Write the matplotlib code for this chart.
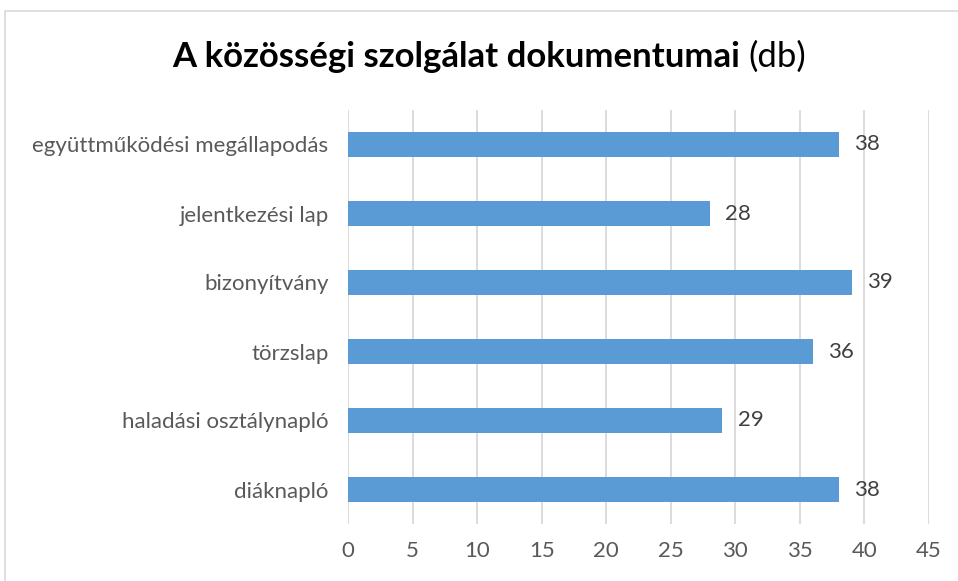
import matplotlib
matplotlib.use('Agg')
import matplotlib.pyplot as plt
from matplotlib.patches import Rectangle

categories = ['diáknapló', 'haladási osztálynapló', 'törzslap',
              'bizonyítvány', 'jelentkezési lap', 'együttműködési megállapodás']
values = [38, 29, 36, 39, 28, 38]
xticks = [0, 5, 10, 15, 20, 25, 30, 35, 40, 45]

plt.rcParams['font.family'] = ['Lato', 'DejaVu Sans']
grey = '#595959'

fig = plt.figure(figsize=(9.58, 5.81), dpi=100)
ax = fig.add_axes([348/958, 1 - 524/581, (929 - 348)/958, (524 - 110)/581])

ypos = range(len(categories))
ax.barh(ypos, values, height=0.35, color='#5B9BD5', zorder=3)
for y, v in zip(ypos, values):
    ax.text(v + 1.2, y, str(v), va='center', ha='left', fontsize=16, color='#404040')

ax.set_xlim(0, 45)
ax.set_ylim(-0.5, len(categories) - 0.5)
ax.set_xticks(xticks)
ax.set_yticks(list(ypos))
ax.set_yticklabels(categories)
ax.tick_params(axis='both', length=0, labelsize=16, colors=grey)
ax.tick_params(axis='x', pad=12)
ax.tick_params(axis='y', pad=14)
ax.grid(axis='x', color='#D9D9D9', linewidth=1.3, zorder=0)
for s in ax.spines.values():
    s.set_visible(False)

# title: bold part plus regular "(db)"
ty = 1 - 57/581
bold = fig.text(0, ty, 'A közösségi szolgálat dokumentumai ',
                fontsize=25, fontweight='bold', color='black', va='center')
reg = fig.text(0, ty, '(db)', fontsize=25, color='black', va='center')
fig.canvas.draw()
r = fig.canvas.get_renderer()
bw = bold.get_window_extent(r).width
rw = reg.get_window_extent(r).width
start = 489 - (bw + rw) / 2
bold.set_x(start / 958)
reg.set_x((start + bw) / 958)

fig.patches.append(Rectangle((5/958, -0.1), 1.2, 1 - 11/581 + 0.1,
                             transform=fig.transFigure, fill=False,
                             edgecolor='#D9D9D9', linewidth=1.2))

fig.savefig('out.png', dpi=100)
